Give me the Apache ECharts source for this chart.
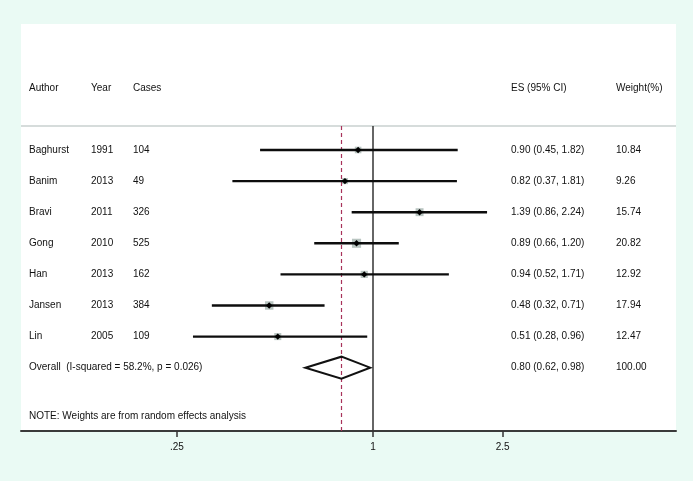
<!DOCTYPE html>
<html><head><meta charset="utf-8">
<script src="https://cdn.jsdelivr.net/npm/echarts@6/dist/echarts.min.js"></script>
<style>html,body{margin:0;padding:0;background:#eafaf4}#c{width:693px;height:481px}</style>
</head><body><div id="c"></div>
<script>
// ---- data ----
const authors = ['Baghurst','Banim','Bravi','Gong','Han','Jansen','Lin'];
const years = ['1991','2013','2011','2010','2013','2013','2005'];
const cases = ['104','49','326','525','162','384','109'];
const es = [0.90,0.82,1.39,0.89,0.94,0.48,0.51];
const ciLow = [0.45,0.37,0.86,0.66,0.52,0.32,0.28];
const ciHigh = [1.82,1.81,2.24,1.20,1.71,0.71,0.96];
const weights = [10.84,9.26,15.74,20.82,12.92,17.94,12.47];
const overallLabel = 'Overall  (I-squared = 58.2%, p = 0.026)';
const overallES = 0.80, overallLow = 0.62, overallHigh = 0.98;
const overallWeight = '100.00';
const headers = ['Author','Year','Cases','ES (95% CI)','Weight(%)'];
const noteText = 'NOTE: Weights are from random effects analysis';
const tickValues = [0.25, 1, 2.5];
const tickLabels = ['.25','1','2.5'];

// ---- layout ----
const FONT = '"Liberation Sans", Arial, sans-serif';
const colX = [8, 70, 112, 490, 595]; // offsets from grid left
const rowOverall = authors.length + 1;
const rowHeader = -1, rowSep = 0.228, rowNote = 9.553;
const yMin = -3.051, yMax = 10.036;
const ln = Math.log;

const studyData = es.map((v, i) => [ln(v), ln(ciLow[i]), ln(ciHigh[i]), i + 1, weights[i]]);
const textRows = authors.map((a, i) => [0, i + 1]);

function txt(x, y, s, align) {
  return {type: 'text', x: x, y: y, style: {text: s, fill: '#111', font: '10px ' + FONT, textAlign: align || 'left', textVerticalAlign: 'middle'}};
}

const chart = echarts.init(document.getElementById('c'));
chart.setOption({
  backgroundColor: '#eafaf4',
  animation: false,
  grid: {left: 21, right: 17, top: 24, bottom: 50, show: true, backgroundColor: '#ffffff', borderWidth: 0},
  xAxis: {
    type: 'value', min: ln(0.0830), max: ln(8.52), splitLine: {show: false},
    axisLine: {show: true, onZero: false, lineStyle: {color: '#3a3a3a', width: 2}},
    axisTick: {show: true, length: 6, customValues: tickValues.map(ln), lineStyle: {color: '#333', width: 1.5}},
    axisLabel: {show: true, margin: 11, fontSize: 10, color: '#111', fontFamily: FONT,
      customValues: tickValues.map(ln),
      formatter: function (v) {
        let best = 0;
        tickValues.forEach((t, i) => { if (Math.abs(ln(t) - v) < Math.abs(ln(tickValues[best]) - v)) best = i; });
        return tickLabels[best];
      }}
  },
  yAxis: {type: 'value', inverse: true, min: yMin, max: yMax, show: false},
  series: [
    { // header, separator, note, reference lines
      type: 'custom', clip: false, data: [[0, 0]],
      renderItem: function (params, api) {
        const L = params.coordSys.x, R = params.coordSys.x + params.coordSys.width;
        const yH = api.coord([0, rowHeader])[1];
        const yS = api.coord([0, rowSep])[1];
        const yB = api.coord([0, yMax])[1];
        const yN = api.coord([0, rowNote])[1];
        const x1 = api.coord([ln(1), 0])[0];
        const xO = Math.round(api.coord([ln(overallES), 0])[0]) + 0.5;
        const ch = [
          {type: 'line', shape: {x1: L, y1: yS, x2: R, y2: yS}, style: {stroke: '#c9d0cf', lineWidth: 1.5}},
          {type: 'line', shape: {x1: x1, y1: yS, x2: x1, y2: yB}, style: {stroke: '#333', lineWidth: 1.5}},
          {type: 'line', shape: {x1: xO, y1: yS, x2: xO, y2: yB}, style: {stroke: '#a8325a', lineWidth: 1.2, lineDash: [4, 3]}},
          txt(L + colX[0], yN, noteText)
        ];
        headers.forEach((h, i) => ch.push(txt(L + colX[i], yH, h)));
        return {type: 'group', children: ch};
      }
    },
    { // table text
      type: 'custom', clip: false, data: textRows,
      renderItem: function (params, api) {
        const i = params.dataIndex;
        const L = params.coordSys.x;
        const y = api.coord([0, api.value(1)])[1];
        const esTxt = es[i].toFixed(2) + ' (' + ciLow[i].toFixed(2) + ', ' + ciHigh[i].toFixed(2) + ')';
        return {type: 'group', children: [
          txt(L + colX[0], y, authors[i]),
          txt(L + colX[1], y, years[i]),
          txt(L + colX[2], y, cases[i]),
          txt(L + colX[3], y, esTxt),
          txt(L + colX[4], y, weights[i].toFixed(2))
        ]};
      }
    },
    { // study CIs
      type: 'custom', clip: false, data: studyData,
      renderItem: function (params, api) {
        const row = api.value(3);
        const pLo = api.coord([api.value(1), row]);
        const pHi = api.coord([api.value(2), row]);
        const pC = api.coord([api.value(0), row]);
        const s = 2.0 * Math.sqrt(api.value(4));
        const y = pC[1];
        return {type: 'group', children: [
          {type: 'rect', shape: {x: pC[0] - s / 2, y: y - s / 2, width: s, height: s}, style: {fill: '#b9c5c1'}},
          {type: 'line', shape: {x1: pLo[0], y1: y, x2: pHi[0], y2: y}, style: {stroke: '#0d0d0d', lineWidth: 2.4}},
          {type: 'polygon', shape: {points: [[pC[0] - 3.2, y], [pC[0], y - 3.2], [pC[0] + 3.2, y], [pC[0], y + 3.2]]}, style: {fill: '#000'}}
        ]};
      }
    },
    { // overall
      type: 'custom', clip: false, data: [[ln(overallES), ln(overallLow), ln(overallHigh), rowOverall]],
      renderItem: function (params, api) {
        const row = api.value(3);
        const h = 0.354;
        const L = params.coordSys.x;
        const pL = api.coord([api.value(1), row]);
        const pR = api.coord([api.value(2), row]);
        const pT = api.coord([api.value(0), row - h]);
        const pB = api.coord([api.value(0), row + h]);
        const y = pL[1];
        const esTxt = overallES.toFixed(2) + ' (' + overallLow.toFixed(2) + ', ' + overallHigh.toFixed(2) + ')';
        return {type: 'group', children: [
          {type: 'polygon', shape: {points: [pL, pT, pR, pB]}, style: {fill: 'rgba(255,255,255,0)', stroke: '#111', lineWidth: 2}},
          txt(L + colX[0], y, overallLabel),
          txt(L + colX[3], y, esTxt),
          txt(L + colX[4], y, overallWeight)
        ]};
      }
    }
  ]
});
</script>
</body></html>
